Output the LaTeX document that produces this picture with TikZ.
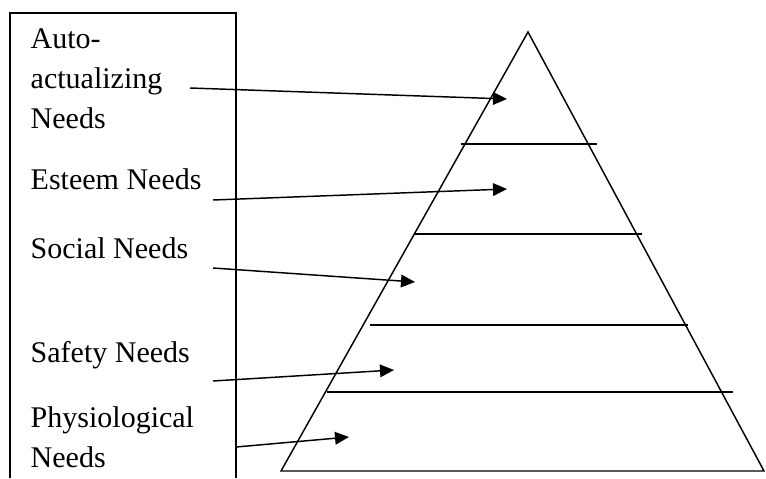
\documentclass[tikz,border=0pt]{standalone}
\usepackage{fontspec}
\setmainfont{Liberation Serif}
\usetikzlibrary{arrows.meta}
\begin{document}
\begin{tikzpicture}[x=0.75pt,y=-0.75pt,
  line width=1.1pt,
  label/.style={anchor=base west,inner sep=0pt,align=left,
    font=\fontsize{22.5}{30}\selectfont},
  pointer/.style={-{Triangle[length=10.5pt,width=9.5pt]}},
  level/.style={line width=1.1pt}]
\useasboundingbox (0,0) rectangle (766,478);

% open frame holding the labels
\draw (10,478) -- (10,13) -- (236,13) -- (236,478);

% pyramid and its levels
\coordinate (apex) at (528,32);
\coordinate (bl) at (281,471);
\coordinate (br) at (764,471);
\draw (apex) -- (bl) -- (br) -- cycle;
\draw[level] (461,144) -- (597,144);
\draw[level] (414,234) -- (642,234);
\draw[level] (370,325) -- (688,325);
\draw[level] (327,392) -- (733,392);

% labels (multi-line labels sit on the baseline of their last line)
\node[label] (auto) at (30,128) {Auto-\\actualizing\\Needs};
\node[label] (esteem) at (30,189) {Esteem Needs};
\node[label] (social) at (30,258) {Social Needs};
\node[label] (safety) at (30,362) {Safety Needs};
\node[label] (physio) at (30,467) {Physiological\\Needs};

% arrow ends
\coordinate (s1) at (190,88);   \coordinate (t1) at (507,99);
\coordinate (s2) at (213,200);  \coordinate (t2) at (507,189);
\coordinate (s3) at (213,268);  \coordinate (t3) at (415,282);
\coordinate (s4) at (213,381);  \coordinate (t4) at (394,370);
\coordinate (s5) at (236,447);  \coordinate (t5) at (349,437);

\draw[pointer] (s1) -- (t1);
\draw[pointer] (s2) -- (t2);
\draw[pointer] (s3) -- (t3);
\draw[pointer] (s4) -- (t4);
\draw[pointer] (s5) -- (t5);
\end{tikzpicture}
\end{document}
